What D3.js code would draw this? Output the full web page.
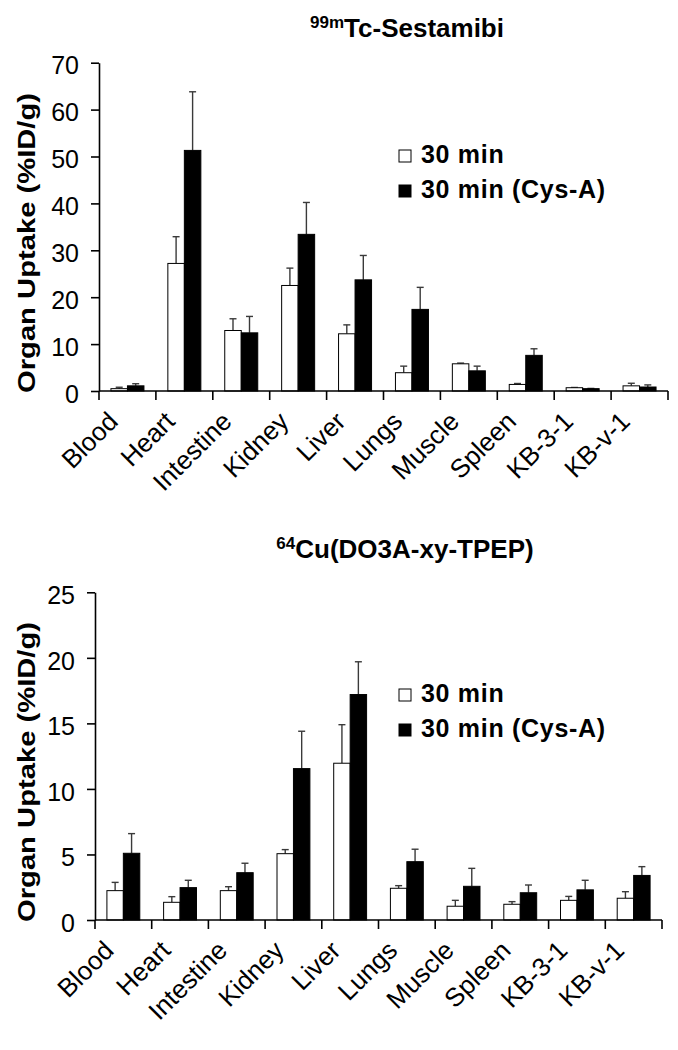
<!DOCTYPE html>
<html><head><meta charset="utf-8">
<script src="https://cdn.jsdelivr.net/npm/d3@7"></script>
<style>
html,body{margin:0;padding:0;background:#fff;}
svg{display:block;font-family:"Liberation Sans",Arial,sans-serif;}
</style></head>
<body><svg id="c" width="678" height="1050"></svg>
<script>
const categories = ["Blood","Heart","Intestine","Kidney","Liver","Lungs","Muscle","Spleen","KB-3-1","KB-v-1"];
const seriesNames = ["30 min","30 min (Cys-A)"];

const tcMean30   = [0.5, 27.2, 12.9, 22.5, 12.2, 3.9, 5.8, 1.4, 0.7, 1.1];
const tcSD30     = [0.3, 5.7, 2.5, 3.7, 1.9, 1.4, 0.15, 0.2, 0.05, 0.55];
const tcMeanCys  = [1.1, 51.3, 12.4, 33.4, 23.7, 17.4, 4.3, 7.6, 0.5, 0.85];
const tcSDCys    = [0.45, 12.5, 3.5, 6.8, 5.2, 4.7, 1.0, 1.4, 0.05, 0.45];
const tcTicks    = [0,10,20,30,40,50,60,70];

const cuMean30   = [2.24, 1.35, 2.24, 5.06, 11.96, 2.42, 1.05, 1.2, 1.5, 1.66];
const cuSD30     = [0.63, 0.43, 0.3, 0.31, 2.94, 0.2, 0.45, 0.2, 0.3, 0.5];
const cuMeanCys  = [5.09, 2.47, 3.61, 11.55, 17.2, 4.45, 2.57, 2.08, 2.3, 3.4];
const cuSDCys    = [1.5, 0.56, 0.72, 2.85, 2.5, 0.95, 1.37, 0.59, 0.73, 0.67];
const cuTicks    = [0,5,10,15,20,25];

const svg = d3.select("#c");
svg.append("rect").attr("width",678).attr("height",1050).attr("fill","#fff");

function panel(opt){
  const g = svg.append("g");
  const x0 = d3.scaleBand().domain(categories).range([opt.left, opt.right]).paddingInner(0.42).paddingOuter(0.21);
  const x1 = d3.scaleBand().domain(seriesNames).range([0, x0.bandwidth()]);
  const y = d3.scaleLinear().domain([0, opt.max]).range([opt.bottom, opt.top]);
  const edges = d3.scaleLinear().domain([0, categories.length]).range([opt.left, opt.right]);

  const rows = categories.map((c,i)=>({c, vals:[
    {s:seriesNames[0], v:opt.m30[i], e:opt.s30[i]},
    {s:seriesNames[1], v:opt.mCys[i], e:opt.sCys[i]}]}));
  const grp = g.selectAll("g.cat").data(rows).join("g")
    .attr("transform", d=>`translate(${x0(d.c)},0)`);
  grp.selectAll("line.err").data(d=>d.vals).join("line")
    .attr("x1", d=>x1(d.s)+x1.bandwidth()/2).attr("x2", d=>x1(d.s)+x1.bandwidth()/2)
    .attr("y1", d=>y(d.v)).attr("y2", d=>y(d.v+d.e))
    .attr("stroke","#3a3a3a").attr("stroke-width",1.4);
  grp.selectAll("line.cap").data(d=>d.vals).join("line")
    .attr("x1", d=>x1(d.s)+x1.bandwidth()/2-3.5).attr("x2", d=>x1(d.s)+x1.bandwidth()/2+3.5)
    .attr("y1", d=>y(d.v+d.e)).attr("y2", d=>y(d.v+d.e))
    .attr("stroke","#3a3a3a").attr("stroke-width",1.4);
  grp.selectAll("rect").data(d=>d.vals).join("rect")
    .attr("x", d=>x1(d.s)).attr("width", x1.bandwidth())
    .attr("y", d=>y(d.v)).attr("height", d=>opt.bottom - y(d.v))
    .attr("fill", d=>d.s===seriesNames[0]?"#fff":"#000")
    .attr("stroke","#000").attr("stroke-width",1);

  const ya = g.append("g").attr("transform",`translate(${opt.left},0)`)
    .call(d3.axisLeft(y).tickValues(opt.ticks).tickSize(8).tickPadding(12).tickSizeOuter(0));
  ya.select(".domain").attr("stroke","#000").attr("stroke-width",1.6);
  ya.selectAll(".tick line").attr("stroke","#000").attr("stroke-width",1.6);
  ya.selectAll(".tick text").attr("font-size",25).attr("fill","#000")
    .attr("font-family","Liberation Sans, Arial, sans-serif").attr("dy","0.45em");

  g.append("line").attr("x1",opt.left).attr("x2",opt.right).attr("y1",opt.bottom).attr("y2",opt.bottom)
    .attr("stroke","#000").attr("stroke-width",1.6);
  g.selectAll("line.xt").data(d3.range(categories.length+1)).join("line")
    .attr("x1",d=>edges(d)).attr("x2",d=>edges(d))
    .attr("y1",opt.bottom).attr("y2",opt.bottom+9)
    .attr("stroke","#000").attr("stroke-width",1.6);
  g.selectAll("text.xl").data(categories).join("text")
    .attr("text-anchor","end").attr("font-size",26).attr("fill","#000")
    .attr("transform", d=>`translate(${x0(d)+x0.bandwidth()/2-8},${opt.bottom+32}) rotate(-45)`)
    .text(d=>d);

  g.append("text").attr("transform",`translate(${opt.ylx},${opt.yly}) rotate(-90)`)
    .attr("text-anchor","middle").attr("font-weight","bold").attr("font-size",24)
    .attr("textLength",opt.ylLen).attr("lengthAdjust","spacingAndGlyphs")
    .attr("dy","0.35em")
    .text("Organ Uptake (%ID/g)");

  const t = g.append("text").attr("x",opt.titleX).attr("y",opt.titleY)
    .attr("text-anchor","middle").attr("font-weight","bold").attr("font-size",26);
  t.append("tspan").attr("font-size",17).attr("dy",-9).text(opt.sup);
  t.append("tspan").attr("dy",9).text(opt.title);

  const lg = g.append("g");
  seriesNames.forEach((s,i)=>{
    lg.append("rect").attr("x",opt.legX).attr("y",opt.legY+i*opt.legGap-12).attr("width",12).attr("height",12)
      .attr("fill", i===0?"#fff":"#000").attr("stroke","#000").attr("stroke-width",1);
    lg.append("text").attr("x",opt.legX+22).attr("y",opt.legY+i*opt.legGap+1)
      .attr("font-weight","bold").attr("font-size",25).attr("letter-spacing",0.7).text(s);
  });
}

panel({left:99,right:668,top:62.7,bottom:391,max:70,ticks:tcTicks,
  m30:tcMean30,s30:tcSD30,mCys:tcMeanCys,sCys:tcSDCys,
  ylx:27,yly:243,ylLen:300,titleX:407,titleY:37,sup:"99m",title:"Tc-Sestamibi",
  legX:399,legY:162,legGap:35});
panel({left:95,right:662,top:592.3,bottom:920,max:25,ticks:cuTicks,
  m30:cuMean30,s30:cuSD30,mCys:cuMeanCys,sCys:cuSDCys,
  ylx:27,yly:772,ylLen:300,titleX:405,titleY:558,sup:"64",title:"Cu(DO3A-xy-TPEP)",
  legX:399,legY:701,legGap:35});
</script></body></html>
